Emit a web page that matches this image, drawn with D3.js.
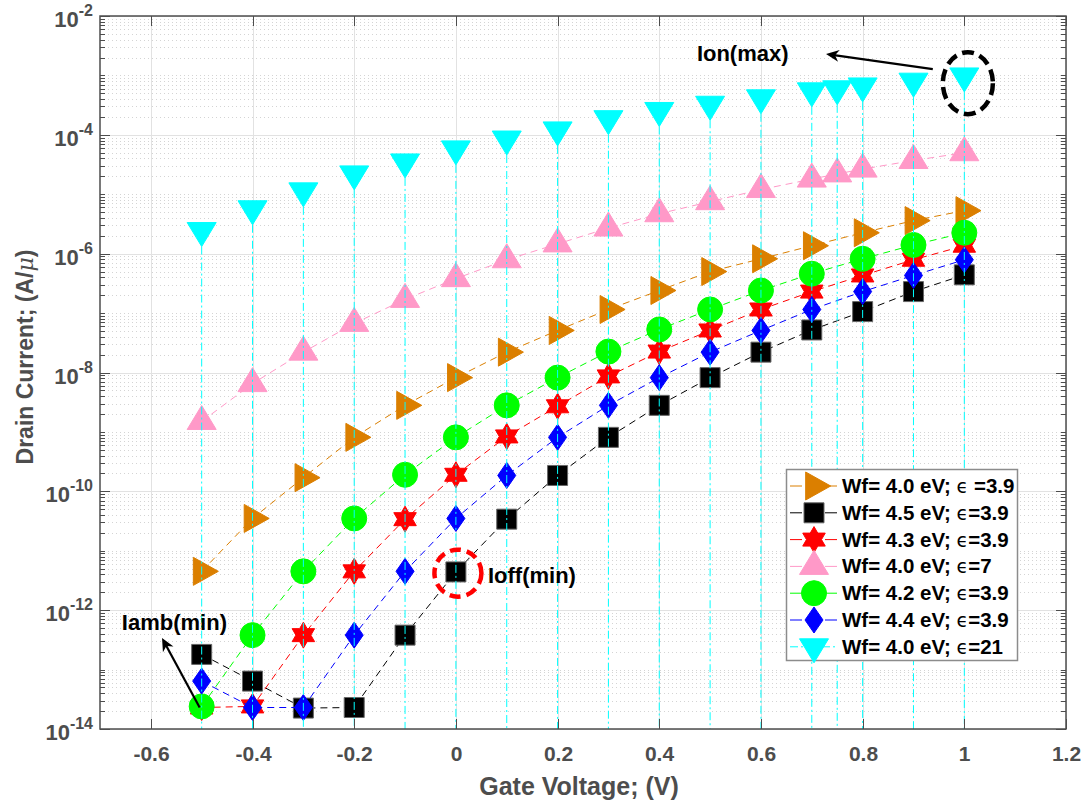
<!DOCTYPE html>
<html>
<head>
<meta charset="utf-8">
<script src="https://cdn.jsdelivr.net/npm/d3@7"></script>
<style>
  body { margin: 0; background: #fff; }
  text { font-family: "Liberation Sans", Arial, sans-serif; font-weight: bold; }
</style>
</head>
<body>
<div id="chart"></div>
<script>
// gate voltage (V)
const gateVoltage = [-0.5, -0.4, -0.3, -0.2, -0.1, 0, 0.1, 0.2, 0.3, 0.4, 0.5, 0.6, 0.7, 0.8, 0.9, 1.0];
const gateVoltageFine = [-0.5, -0.4, -0.3, -0.2, -0.1, 0, 0.1, 0.2, 0.3, 0.4, 0.5, 0.6, 0.7, 0.75, 0.8, 0.9, 1.0];

// drain current (A/u)
const idWf40k39 = [4.5e-12, 3.5e-11, 1.7e-10, 8.1e-10, 2.8e-9, 8.2e-9, 2.2e-8, 5.1e-8, 1.15e-7, 2.4e-7, 5.0e-7, 8.2e-7, 1.36e-6, 2.25e-6, 3.6e-6, 5.3e-6];
const idWf45k39 = [1.8e-13, 6.4e-14, 2.25e-14, 2.3e-14, 3.8e-13, 4.4e-12, 3.4e-11, 1.85e-10, 8.1e-10, 2.8e-9, 8.2e-9, 2.2e-8, 5.2e-8, 1.06e-7, 2.3e-7, 4.4e-7];
const idWf43k39 = [2.3e-14, 2.4e-14, 3.8e-13, 4.5e-12, 3.4e-11, 1.9e-10, 8.4e-10, 2.7e-9, 8.6e-9, 2.25e-8, 5.1e-8, 1.15e-7, 2.3e-7, 4.3e-7, 7.9e-7, 1.36e-6];
const idWf40k7 = [1.5e-9, 6.5e-9, 2.2e-8, 6.7e-8, 1.7e-7, 3.8e-7, 7.9e-7, 1.46e-6, 2.7e-6, 4.7e-6, 7.5e-6, 1.2e-5, 1.8e-5, 2.2e-5, 2.65e-5, 3.7e-5, 5.0e-5];
const idWf42k39 = [2.4e-14, 3.8e-13, 4.5e-12, 3.5e-11, 1.9e-10, 8.1e-10, 2.8e-9, 8.2e-9, 2.25e-8, 5.3e-8, 1.15e-7, 2.4e-7, 4.6e-7, 8.2e-7, 1.4e-6, 2.25e-6];
const idWf44k39 = [6.4e-14, 2.3e-14, 2.3e-14, 3.8e-13, 4.5e-12, 3.5e-11, 1.85e-10, 8.1e-10, 2.8e-9, 8.2e-9, 2.2e-8, 5.1e-8, 1.15e-7, 2.3e-7, 4.3e-7, 7.9e-7];
const idWf40k21 = [2.45e-6, 5.7e-6, 1.14e-5, 2.2e-5, 3.5e-5, 5.8e-5, 8.5e-5, 1.21e-4, 1.87e-4, 2.57e-4, 3.27e-4, 4.2e-4, 5.5e-4, 5.95e-4, 6.65e-4, 8.0e-4, 9.8e-4];

// legend text: [before epsilon, after epsilon]
const seriesLabels = [
    ["Wf= 4.0 eV; ", " =3.9"],
    ["Wf= 4.5 eV; ", "=3.9"],
    ["Wf= 4.3 eV; ", "=3.9"],
    ["Wf= 4.0 eV; ", "=7"],
    ["Wf= 4.2 eV; ", "=3.9"],
    ["Wf= 4.4 eV; ", "=3.9"],
    ["Wf= 4.0 eV; ", "=21"]
];

const xTicks = [-0.6, -0.4, -0.2, 0, 0.2, 0.4, 0.6, 0.8, 1, 1.2];
const yMajorExp = [-14, -12, -10, -8, -6, -4, -2];

const width = 1085, height = 802;
const plot = {left: 100, right: 1066, top: 16, bottom: 729};
const axisColor = "#4d4d4d";

const xScale = d3.scaleLinear().domain([-0.7, 1.2]).range([plot.left, plot.right]);
const yScale = d3.scaleLog().domain([1e-14, 1e-2]).range([plot.bottom, plot.top]);

// marker shapes, centred like matlab (triangles on their centroid)
const markers = {
    triRight: (w = 25, h = 28) => `M${-w / 3},${-h / 2}L${2 * w / 3},0L${-w / 3},${h / 2}Z`,
    triUp: (w = 29, h = 24) => `M0,${-2 * h / 3}L${w / 2},${h / 3}L${-w / 2},${h / 3}Z`,
    triDown: (w = 29, h = 24) => `M0,${2 * h / 3}L${w / 2},${-h / 3}L${-w / 2},${-h / 3}Z`,
    square: (s = 20) => `M${-s / 2},${-s / 2}H${s / 2}V${s / 2}H${-s / 2}Z`,
    circle: (r = 12.5) => `M${r},0A${r},${r},0,1,1,${-r},0A${r},${r},0,1,1,${r},0Z`,
    diamond: (w = 18, h = 26) => `M0,${-h / 2}L${w / 2},0L0,${h / 2}L${-w / 2},0Z`,
    hexagram: (R = 13) => {
        const r = R / Math.sqrt(3);
        const pts = d3.range(12).map(i => {
            const a = -Math.PI / 2 + i * Math.PI / 6;
            const rad = i % 2 === 0 ? R : r;
            return [rad * Math.cos(a), rad * Math.sin(a)];
        });
        return "M" + pts.map(p => p.join(",")).join("L") + "Z";
    }
};

const series = [
    {x: gateVoltage, y: idWf40k39, color: "#db7f00", marker: "triRight", dash: "7,5"},
    {x: gateVoltage, y: idWf45k39, color: "#000000", marker: "square", dash: "7,5", edge: "#666"},
    {x: gateVoltage, y: idWf43k39, color: "#ff0000", marker: "hexagram", dash: "7,5"},
    {x: gateVoltageFine, y: idWf40k7, color: "#ff99c8", marker: "triUp", dash: "7,5"},
    {x: gateVoltage, y: idWf42k39, color: "#00ff00", marker: "circle", dash: "7,5"},
    {x: gateVoltage, y: idWf44k39, color: "#0000ff", marker: "diamond", dash: "7,5"},
    {x: gateVoltageFine, y: idWf40k21, color: "#00ffff", marker: "triDown", dash: "8,3,2,3", stem: true}
];

const svg = d3.select("#chart").append("svg")
    .attr("width", width)
    .attr("height", height)
    .style("background", "#fff");

// grid
const minorVals = [];
for (let e = -14; e < -2; e++) {
    for (let k = 1; k < 10; k++) {
        if (k === 1 && e % 2 === 0) continue;
        minorVals.push(k * Math.pow(10, e));
    }
}
const majorVals = yMajorExp.map(e => Math.pow(10, e));

const gridG = svg.append("g").attr("class", "grid");
gridG.selectAll(".minorY").data(minorVals).join("line")
    .attr("x1", plot.left).attr("x2", plot.right)
    .attr("y1", d => Math.round(yScale(d)) + 0.5).attr("y2", d => Math.round(yScale(d)) + 0.5)
    .attr("stroke", "#d4d4d4").attr("stroke-dasharray", "1,3");
gridG.selectAll(".majorY").data(majorVals).join("line")
    .attr("x1", plot.left).attr("x2", plot.right)
    .attr("y1", d => Math.round(yScale(d)) + 0.5).attr("y2", d => Math.round(yScale(d)) + 0.5)
    .attr("stroke", "#e2e2e2");
gridG.selectAll(".majorX").data(xTicks).join("line")
    .attr("x1", d => Math.round(xScale(d)) + 0.5).attr("x2", d => Math.round(xScale(d)) + 0.5)
    .attr("y1", plot.top).attr("y2", plot.bottom)
    .attr("stroke", "#e2e2e2");

// data
const line = d3.line().x(d => xScale(d[0])).y(d => yScale(d[1]));
const dataG = svg.append("g").attr("class", "data");

series.forEach(s => {
    const pts = s.x.map((v, i) => [v, s.y[i]]);
    const g = dataG.append("g");
    if (s.stem) {
        g.selectAll("line").data(pts).join("line")
            .attr("x1", d => xScale(d[0])).attr("x2", d => xScale(d[0]))
            .attr("y1", d => yScale(d[1])).attr("y2", plot.bottom)
            .attr("stroke", s.color).attr("stroke-width", 1)
            .attr("stroke-dasharray", s.dash);
    } else {
        g.append("path").datum(pts)
            .attr("d", line)
            .attr("fill", "none")
            .attr("stroke", s.color).attr("stroke-width", 1)
            .attr("stroke-dasharray", s.dash);
    }
    g.selectAll(".mk").data(pts).join("path")
        .attr("class", "mk")
        .attr("transform", d => `translate(${xScale(d[0])},${yScale(d[1])})`)
        .attr("d", markers[s.marker]())
        .attr("fill", s.color)
        .attr("stroke", s.edge || s.color)
        .attr("stroke-width", 1);
});

// axes box and ticks
const axG = svg.append("g").attr("class", "axes");
axG.append("rect")
    .attr("x", plot.left).attr("y", plot.top)
    .attr("width", plot.right - plot.left).attr("height", plot.bottom - plot.top)
    .attr("fill", "none").attr("stroke", axisColor).attr("stroke-width", 1.5);

xTicks.forEach(t => {
    const x = Math.round(xScale(t)) + 0.5;
    axG.append("line").attr("x1", x).attr("x2", x).attr("y1", plot.bottom).attr("y2", plot.bottom - 10)
        .attr("stroke", axisColor);
    axG.append("line").attr("x1", x).attr("x2", x).attr("y1", plot.top).attr("y2", plot.top + 10)
        .attr("stroke", axisColor);
    axG.append("text")
        .attr("x", x).attr("y", 761)
        .attr("text-anchor", "middle")
        .attr("font-size", 21)
        .attr("fill", axisColor)
        .text(t === 0 ? "0" : String(t));
});

minorVals.concat(majorVals).forEach(v => {
    const y = Math.round(yScale(v)) + 0.5;
    const len = majorVals.includes(v) ? 10 : 5;
    axG.append("line").attr("x1", plot.left).attr("x2", plot.left + len).attr("y1", y).attr("y2", y)
        .attr("stroke", axisColor);
    axG.append("line").attr("x1", plot.right).attr("x2", plot.right - len).attr("y1", y).attr("y2", y)
        .attr("stroke", axisColor);
});

yMajorExp.forEach(e => {
    const y = yScale(Math.pow(10, e));
    const t = axG.append("text")
        .attr("x", 93).attr("y", y + 11)
        .attr("text-anchor", "end")
        .attr("fill", axisColor);
    t.append("tspan").attr("font-size", 22).text("10");
    t.append("tspan").attr("font-size", 16).attr("dy", -11).text(String(e));
});

// axis labels
svg.append("text")
    .attr("x", 579).attr("y", 795)
    .attr("text-anchor", "middle")
    .attr("font-size", 25)
    .attr("fill", axisColor)
    .text("Gate Voltage; (V)");

const yLab = svg.append("text")
    .attr("transform", "translate(33,357) rotate(-90)")
    .attr("text-anchor", "middle")
    .attr("font-size", 23)
    .attr("fill", axisColor);
yLab.append("tspan").text("Drain Current; (A/");
yLab.append("tspan").attr("font-style", "italic").attr("font-weight", "normal")
    .style("font-family", "'DejaVu Serif', serif").attr("font-size", 22).text("\u03bc");
yLab.append("tspan").text(")");

// annotations (positions in data space)
const annG = svg.append("g").attr("class", "annotations");

function arrow(from, to) {
    const x0 = xScale(from[0]), y0 = yScale(from[1]);
    const x1 = xScale(to[0]), y1 = yScale(to[1]);
    const ang = Math.atan2(y1 - y0, x1 - x0);
    const L = 13, W = 6;
    annG.append("line")
        .attr("x1", x0).attr("y1", y0)
        .attr("x2", x1 - Math.cos(ang) * 8).attr("y2", y1 - Math.sin(ang) * 8)
        .attr("stroke", "#000").attr("stroke-width", 2.2);
    const pts = [[0, 0], [-L, -W], [-L * 0.7, 0], [-L, W]].map(([px, py]) => [
        x1 + px * Math.cos(ang) - py * Math.sin(ang),
        y1 + px * Math.sin(ang) + py * Math.cos(ang)
    ]);
    annG.append("path").attr("d", "M" + pts.map(p => p.join(",")).join("L") + "Z").attr("fill", "#000");
}

annG.append("ellipse")
    .attr("cx", xScale(1.007)).attr("cy", yScale(7.4e-4))
    .attr("rx", 25).attr("ry", 31)
    .attr("fill", "none").attr("stroke", "#000").attr("stroke-width", 4.5)
    .attr("stroke-dasharray", "12,6");
arrow([0.938, 1.28e-3], [0.728, 2.29e-3]);
annG.append("text")
    .attr("x", xScale(0.474)).attr("y", yScale(2.4e-3)).attr("dy", "0.35em")
    .attr("font-size", 22).attr("fill", "#000")
    .text("Ion(max)");

annG.append("circle")
    .attr("cx", xScale(0.004)).attr("cy", yScale(4.2e-12))
    .attr("r", 23.5)
    .attr("fill", "none").attr("stroke", "#ff0000").attr("stroke-width", 4.5)
    .attr("stroke-dasharray", "11,6");
annG.append("text")
    .attr("x", xScale(0.063)).attr("y", yScale(3.9e-12)).attr("dy", "0.35em")
    .attr("font-size", 22).attr("fill", "#000")
    .text("Ioff(min)");

arrow([-0.504, 2.3e-14], [-0.578, 3.4e-13]);
annG.append("text")
    .attr("x", xScale(-0.657)).attr("y", yScale(6.3e-13)).attr("dy", "0.35em")
    .attr("font-size", 22).attr("fill", "#000")
    .text("Iamb(min)");

// legend
const leg = {x: 786, y: 469, w: 231, h: 191, row: 26.8};
const legG = svg.append("g").attr("class", "legend");
legG.append("rect")
    .attr("x", leg.x + 0.5).attr("y", leg.y + 0.5)
    .attr("width", leg.w).attr("height", leg.h)
    .attr("fill", "#fff").attr("stroke", "#8c8c8c").attr("stroke-width", 1.5);

series.forEach((s, i) => {
    const cy = leg.y + 17 + i * leg.row;
    const row = legG.append("g");
    row.append("line")
        .attr("x1", leg.x + 4).attr("x2", leg.x + 51)
        .attr("y1", cy).attr("y2", cy)
        .attr("stroke", s.color).attr("stroke-width", 1)
        .attr("stroke-dasharray", s.stem ? "8,3,2,3" : "12,23");
    row.append("path")
        .attr("transform", `translate(${leg.x + 28},${cy})`)
        .attr("d", markers[s.marker]())
        .attr("fill", s.color)
        .attr("stroke", s.edge || s.color);
    const t = row.append("text")
        .attr("x", leg.x + 56).attr("y", cy + 7)
        .attr("font-size", 20.5).attr("fill", "#000");
    t.append("tspan").text(seriesLabels[i][0]);
    t.append("tspan").attr("font-weight", "normal")
        .style("font-family", "'DejaVu Sans', sans-serif")
        .attr("font-size", 19).text("\u03f5");
    t.append("tspan").text(seriesLabels[i][1]);
});
</script>
</body>
</html>
